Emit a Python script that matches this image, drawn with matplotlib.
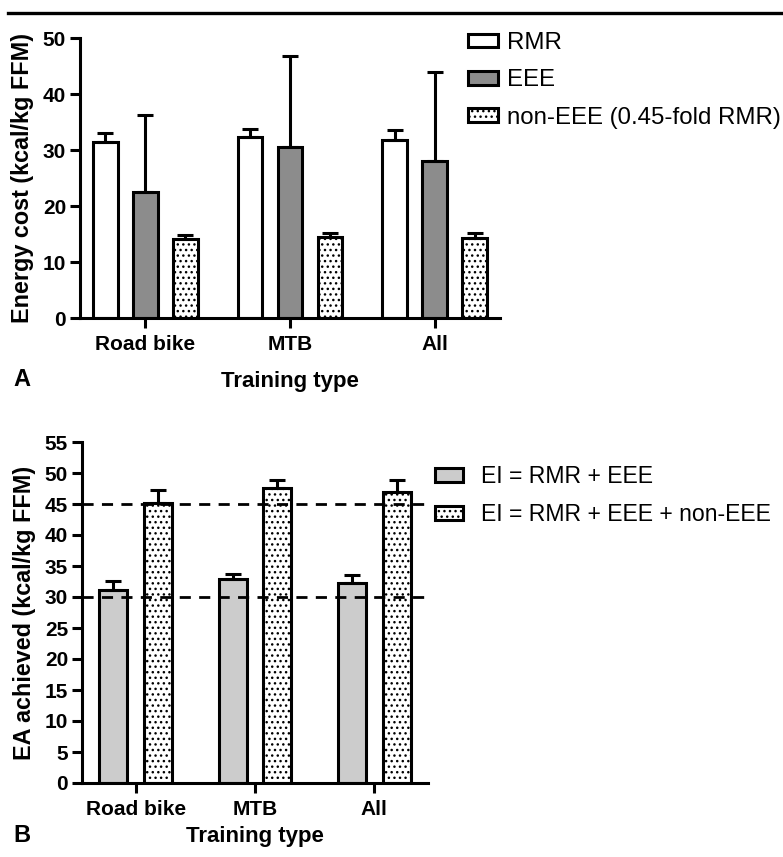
import numpy as np
import matplotlib
matplotlib.use("Agg")
import matplotlib.pyplot as plt
from matplotlib.lines import Line2D

plt.rcParams['font.family'] = ['Liberation Sans', 'DejaVu Sans']
plt.rcParams['hatch.linewidth'] = 1.0
plt.rcParams['hatch.color'] = 'black'

# datos
grupos = ["Road bike", "MTB", "All"]

# panel A (kcal/kg FFM)
rmr = [31.4, 32.4, 31.8]
rmr_sd = [1.7, 1.4, 1.8]
eee = [22.5, 30.6, 28.0]
eee_sd = [13.8, 16.2, 16.0]
non_eee = [14.1, 14.5, 14.3]
non_eee_sd = [0.8, 0.7, 0.9]

# panel B (kcal/kg FFM)
ei_1 = [31.1, 32.9, 32.3]
ei_1_sd = [1.5, 0.8, 1.3]
ei_2 = [45.2, 47.6, 46.9]
ei_2_sd = [2.1, 1.3, 1.9]
umbrales = [30, 45]

LW = 2.2
W, H = 783, 857
fig = plt.figure(figsize=(W / 100, H / 100), dpi=100)

# linea superior
fig.add_artist(Line2D([8 / W, 781 / W], [1 - 13 / H, 1 - 13 / H], color='black', lw=2.4))


def estilo_ejes(ax):
    for s in ['top', 'right']:
        ax.spines[s].set_visible(False)
    for s in ['left', 'bottom']:
        ax.spines[s].set_linewidth(LW)
    ax.tick_params(axis='both', width=LW, length=7.5, labelsize=15)
    ax.tick_params(axis='y', pad=2.5)
    ax.tick_params(axis='x', pad=5)
    for t in ax.get_xticklabels() + ax.get_yticklabels():
        t.set_fontweight('bold')


def barras(ax, x, vals, sd, w, **kw):
    ax.bar(x, vals, width=w, edgecolor='black', linewidth=LW, zorder=2, **kw)
    ax.errorbar(x, vals, yerr=[np.zeros(len(sd)), sd], fmt='none', ecolor='black',
                elinewidth=LW, capsize=5.5, capthick=LW, zorder=3)


x = np.arange(len(grupos))

# ---- panel A
axA = fig.add_axes([80 / W, 1 - 318 / H, 420 / W, 280 / H])
wA = 0.172
dA = 0.276
barras(axA, x - dA, rmr, rmr_sd, wA, color='white', label='RMR')
barras(axA, x, eee, eee_sd, wA, color='#8c8c8c', label='EEE')
barras(axA, x + dA, non_eee, non_eee_sd, wA, color='white', hatch='...',
       label='non-EEE (0.45-fold RMR)')
axA.set_xlim(-0.45, 2.45)
axA.set_ylim(0, 50)
axA.set_yticks([0, 10, 20, 30, 40, 50])
axA.set_xticks(x)
axA.set_xticklabels(grupos)
axA.set_xlabel("Training type", fontsize=16, fontweight='bold', labelpad=12)
axA.set_ylabel("Energy cost (kcal/kg FFM)", fontsize=16.8, fontweight='bold', labelpad=6)
estilo_ejes(axA)
axA.legend(loc='upper left', bbox_to_anchor=(468 / W, 1 - 32 / H), bbox_transform=fig.transFigure,
           frameon=False, fontsize=17.3, borderpad=0, borderaxespad=0, handlelength=1.23,
           handleheight=0.5, handletextpad=0.4, labelspacing=0.64)
fig.text(13 / W, 1 - 380 / H, "A", fontsize=17, fontweight='bold', va='center')

# ---- panel B
axB = fig.add_axes([82 / W, 1 - 783 / H, 346 / W, 341 / H])
wB = 0.233
dB = 0.1875
barras(axB, x - dB, ei_1, ei_1_sd, wB, color='#cccccc', label='EI = RMR + EEE')
barras(axB, x + dB, ei_2, ei_2_sd, wB, color='white', hatch='...',
       label='EI = RMR + EEE + non-EEE')
for u in umbrales:
    axB.axhline(u, color='black', lw=2.0, ls=(0, (4, 3)), zorder=4, clip_on=False)
axB.set_xlim(-0.45, 2.45)
axB.set_ylim(0, 55)
axB.set_yticks(np.arange(0, 56, 5))
axB.set_xticks(x)
axB.set_xticklabels(grupos)
axB.set_xlabel("Training type", fontsize=16, fontweight='bold', labelpad=5)
axB.set_ylabel("EA achieved (kcal/kg FFM)", fontsize=16.8, fontweight='bold', labelpad=6)
estilo_ejes(axB)
axB.legend(loc='upper left', bbox_to_anchor=(435 / W, 1 - 465 / H), bbox_transform=fig.transFigure,
           frameon=False, fontsize=16.6, borderpad=0, borderaxespad=0, handlelength=1.23,
           handleheight=0.52, handletextpad=0.75, labelspacing=0.65)
fig.text(13 / W, 1 - 835 / H, "B", fontsize=17, fontweight='bold', va='center')

fig.savefig("out.png", dpi=100)
